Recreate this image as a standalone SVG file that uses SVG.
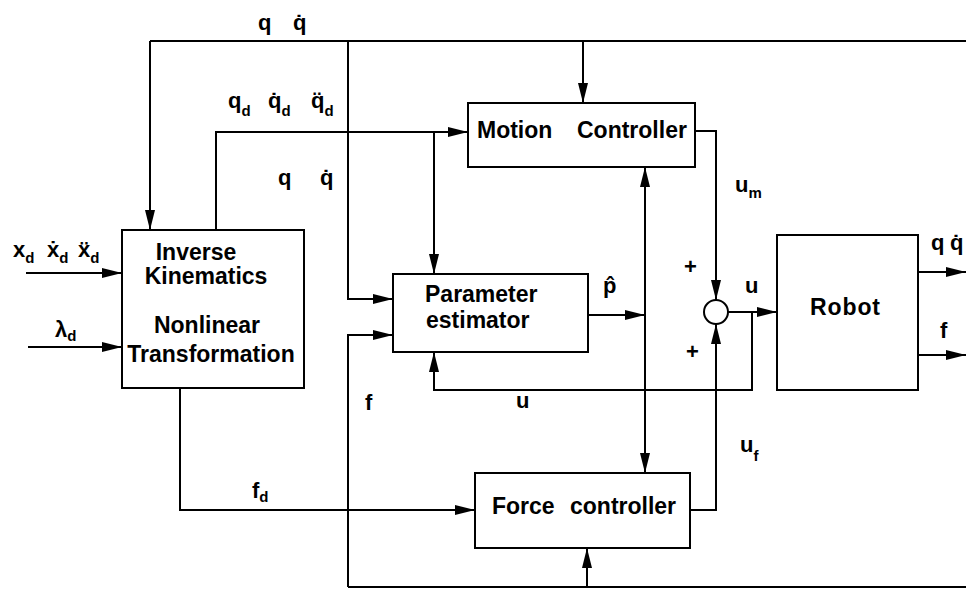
<svg xmlns="http://www.w3.org/2000/svg" width="966" height="589" viewBox="0 0 966 589">
<style>
.box{fill:#fff;stroke:#000;stroke-width:2}
.ln{fill:none;stroke:#000;stroke-width:2}
.arr{marker-end:url(#ah)}
text{font-family:"Liberation Sans","DejaVu Sans",Arial,sans-serif;font-weight:bold;fill:#000}
.bt{font-size:23px}
.lb{font-size:22px}
.sb{font-size:15px}
</style>
<defs>
<marker id="ah" markerUnits="userSpaceOnUse" markerWidth="20" markerHeight="10" refX="20" refY="5" orient="auto">
<path d="M0,0 L20,5 L0,10 z" fill="#000"/>
</marker>
<marker id="as" markerUnits="userSpaceOnUse" markerWidth="20" markerHeight="10" refX="0" refY="5" orient="auto">
<path d="M20,0 L0,5 L20,10 z" fill="#000"/>
</marker>
</defs>
<rect width="966" height="589" fill="#fff"/>

<g id="connectors">
<path class="ln" d="M966,41 H150"/>
<path class="ln arr" d="M150,41 V230"/>
<path class="ln arr" d="M583,41 V103"/>
<path class="ln arr" d="M348,41 V299 H393"/>
<path class="ln arr" d="M216,230 V132 H468"/>
<path class="ln arr" d="M434,132 V274"/>
<path class="ln arr" d="M26,273 H122"/>
<path class="ln arr" d="M28,347 H122"/>
<path class="ln arr" d="M180,388 V510 H475"/>
<path class="ln" d="M966,587 H348"/>
<path class="ln arr" d="M348,587 V335 H393"/>
<path class="ln arr" d="M587,587 V548"/>
<path class="ln arr" d="M588,315 H645"/>
<path class="ln" d="M645,167 V473" style="marker-start:url(#as);marker-end:url(#ah)"/>
<path class="ln arr" d="M695,131 H716 V300"/>
<path class="ln arr" d="M690,510 H716 V324"/>
<path class="ln arr" d="M728,312 H777"/>
<path class="ln arr" d="M752,312 V390 H434 V352"/>
<path class="ln arr" d="M918,272 H966"/>
<path class="ln arr" d="M918,355 H966"/>
</g>

<g id="ik">
<rect class="box" x="122" y="230" width="182" height="158"/>
<text class="bt" x="196" y="260" text-anchor="middle">Inverse</text>
<text class="bt" x="206" y="284" text-anchor="middle">Kinematics</text>
<text class="bt" x="207" y="333" text-anchor="middle">Nonlinear</text>
<text class="bt" x="211" y="362" text-anchor="middle">Transformation</text>
</g>
<g id="motion">
<rect class="box" x="468" y="103" width="227" height="64"/>
<text class="bt" x="477" y="138">Motion</text>
<text class="bt" x="577" y="138">Controller</text>
</g>
<g id="param">
<rect class="box" x="393" y="274" width="195" height="78"/>
<text class="bt" x="425" y="302">Parameter</text>
<text class="bt" x="426" y="328">estimator</text>
</g>
<g id="force">
<rect class="box" x="475" y="473" width="215" height="75"/>
<text class="bt" x="492" y="514">Force</text>
<text class="bt" x="570" y="514">controller</text>
</g>
<g id="sum">
<circle cx="716" cy="312" r="12" fill="#fff" stroke="#000" stroke-width="2"/>
</g>
<g id="robot">
<rect class="box" x="777" y="235" width="141" height="155"/>
<text class="bt" x="810" y="315" textLength="70">Robot</text>
</g>

<g id="labels">
<text class="lb" x="258" y="30">q</text>
<text class="lb" x="293" y="30">q̇</text>
<text class="lb" x="228" y="108">q<tspan class="sb" dy="8">d</tspan></text>
<text class="lb" x="268" y="108">q̇<tspan class="sb" dy="8">d</tspan></text>
<text class="lb" x="311" y="108">q̈<tspan class="sb" dy="8">d</tspan></text>
<text class="lb" x="278" y="185">q</text>
<text class="lb" x="320" y="185">q̇</text>
<text class="lb" x="13" y="257">x<tspan class="sb" dy="6">d</tspan></text>
<text class="lb" x="47" y="257">ẋ<tspan class="sb" dy="6">d</tspan></text>
<text class="lb" x="78" y="257">ẍ<tspan class="sb" dy="6">d</tspan></text>
<text class="lb" x="55" y="337">λ<tspan class="sb" dy="4">d</tspan></text>
<text class="lb" x="252" y="498">f<tspan class="sb" dy="4">d</tspan></text>
<text class="lb" x="365" y="410">f</text>
<text class="lb" x="516" y="408">u</text>
<text class="lb" x="603" y="293">p̂</text>
<text class="lb" x="735" y="192">u<tspan class="sb" dy="6">m</tspan></text>
<text class="lb" x="745" y="293">u</text>
<text class="lb" x="684" y="274">+</text>
<text class="lb" x="686" y="359">+</text>
<text class="lb" x="740" y="452">u<tspan class="sb" dy="9">f</tspan></text>
<text class="lb" x="931" y="250">q</text>
<text class="lb" x="950" y="250">q̇</text>
<text class="lb" x="940" y="338">f</text>
</g>
</svg>
